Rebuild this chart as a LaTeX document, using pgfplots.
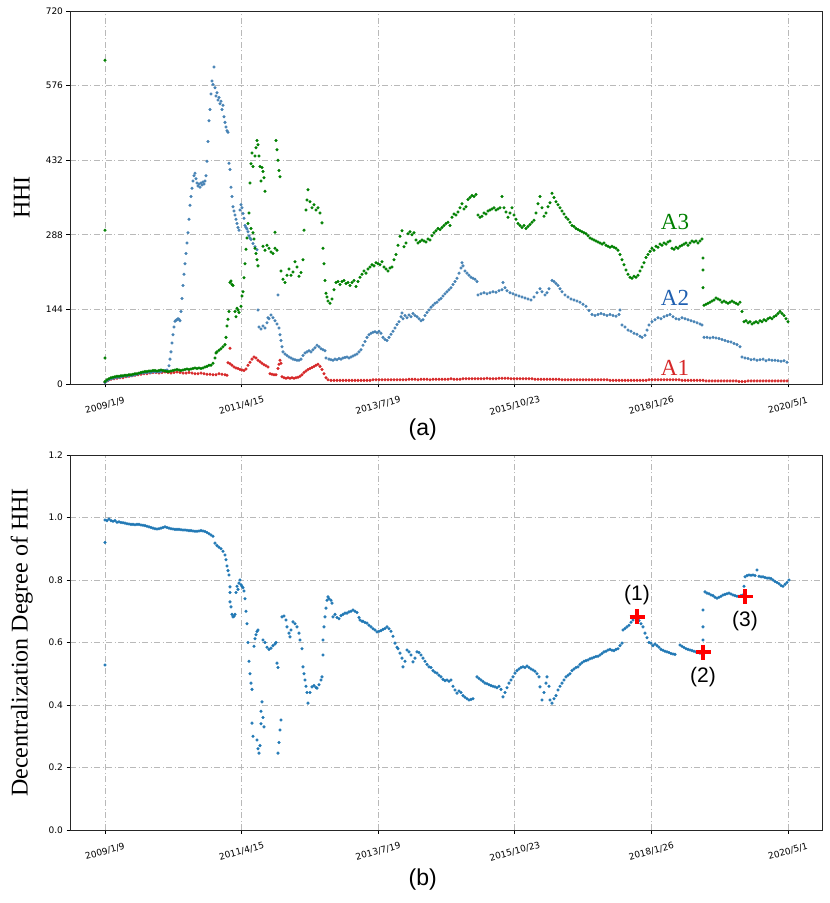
\documentclass[border=0pt]{standalone}
\usepackage{pgfplots}
\usepackage{pgfplotstable}
\pgfplotsset{compat=1.18}
\usepackage{fontspec}
\setmainfont{Liberation Serif}
\newfontfamily\dejavu{DejaVu Sans}
\newfontfamily\helv{Liberation Sans}
\definecolor{cA1}{HTML}{D62728}
\definecolor{cA2}{HTML}{4682B4}
\definecolor{cA3}{HTML}{008000}
\definecolor{cA2t}{HTML}{1F5FB0}
\definecolor{cB}{HTML}{1F77B4}

% x = position along the time axis (0 = 2009/1/9, 683 = 2020/5/1)
\pgfplotstableread{
u y
0 3
2 6
4 8
6 10
8 11
10 12
12 13
14 13
16 14
18 15
20 16
22 15
24 17
26 16
28 17
30 18
32 19
34 20
36 21
38 21
40 22
42 22
44 23
46 22
48 24
50 23
52 24
54 23
56 24
58 25
60 26
62 27
64 35
65 48
66 62
67 79
68 95
69 110
70 121
71 123
72 124
73 126
74 125
75 122
76 140
77 165
78 190
79 212
80 232
81 252
82 272
83 292
84 318
85 345
86 362
87 378
88 392
89 402
90 407
91 396
92 388
93 382
94 386
95 380
96 388
97 384
98 390
99 386
100 392
101 402
102 430
103 468
104 508
105 530
106 560
107 585
108 578
109 612
110 572
111 556
112 562
113 548
114 553
115 541
116 546
117 530
118 538
119 516
120 505
121 496
122 489
123 486
124 426
125 414
126 380
127 362
128 342
129 334
130 326
131 318
132 310
133 302
134 297
135 336
136 346
137 340
138 329
139 320
140 306
141 302
142 299
143 294
144 286
145 282
146 279
148 271
150 265
152 259
153 143
154 110
156 106
158 112
160 108
162 118
163 128
164 126
166 133
168 128
170 122
172 116
173 172
174 108
175 95
176 84
177 72
178 62
180 58
182 55
184 52
186 50
188 48
190 47
192 46
194 46
196 48
198 55
200 60
202 62
204 64
206 62
208 66
210 70
212 75
214 72
216 68
218 66
220 64
221 50
224 48
226 47
228 46
230 48
232 47
234 49
236 48
238 50
240 51
242 52
244 50
246 52
248 54
250 56
252 58
254 62
256 66
258 75
260 82
262 90
264 95
266 98
268 100
270 101
272 99
274 102
276 98
278 90
280 86
282 84
284 90
286 96
288 102
290 108
292 115
294 120
296 130
297 137
298 126
300 132
302 128
304 133
306 130
308 136
310 132
312 130
314 126
316 122
318 124
320 132
322 138
324 143
326 148
328 152
330 156
332 158
334 162
336 165
338 170
340 174
342 178
344 182
346 186
348 192
350 198
352 204
354 214
356 224
357 234
358 228
360 218
362 214
364 210
366 206
368 204
370 202
372 198
373 172
376 174
379 176
382 174
385 176
388 178
391 177
394 180
397 182
398 196
400 186
402 180
405 176
408 174
411 172
414 170
417 168
420 166
423 164
426 162
429 168
432 176
435 184
437 178
440 172
442 176
444 184
447 200
449 198
451 194
453 190
455 184
457 178
460 172
463 168
466 164
469 162
472 160
475 158
478 154
481 150
484 142
487 134
490 132
493 134
496 136
499 134
502 132
505 134
508 132
511 131
514 134
515 143
517 114
520 110
523 104
526 102
529 98
532 96
535 92
537 90
540 94
542 104
544 114
547 120
550 124
553 128
556 126
559 130
562 132
565 134
568 130
571 126
574 125
577 128
580 126
583 124
586 122
589 120
592 118
595 116
597 114
599 90
602 90
605 89
608 90
611 89
614 88
617 86
620 84
623 82
626 81
629 78
632 76
635 72
637 52
640 50
643 49
646 47
649 48
652 46
655 47
658 48
661 45
664 47
667 46
670 46
673 45
676 44
679 45
682 42
}\dataAtwo

\pgfplotstableread{
u y
0 625
0 297
0 50
0 5
2 8
4 10
6 12
8 13
10 14
12 15
14 15
16 16
18 16
20 17
22 17
24 18
26 18
28 19
30 20
32 20
34 21
36 22
38 23
40 24
42 24
44 25
46 25
48 26
50 26
52 25
54 26
56 27
58 26
60 25
62 24
64 24
66 25
68 26
70 27
72 28
74 27
76 26
78 27
80 28
82 29
84 28
86 29
88 30
90 31
92 30
94 31
96 30
98 31
100 33
102 34
104 36
106 36
108 40
110 50
111 60
112 62
114 65
116 68
118 72
120 76
121 90
122 112
123 125
124 140
125 196
126 199
127 192
128 190
130 140
131 130
132 146
133 143
134 138
136 150
137 170
138 178
139 205
140 232
141 260
142 282
143 310
144 330
145 388
146 425
147 446
148 420
146 300
148 292
149 280
150 262
151 252
152 240
153 228
150 440
151 456
152 470
153 462
154 440
155 420
156 392
157 418
158 410
159 398
160 372
158 266
160 258
162 268
164 262
166 255
168 252
170 262
172 258
170 293
171 470
172 452
173 432
174 412
175 400
176 218
178 202
180 196
182 210
184 222
186 210
188 216
190 236
192 226
194 208
196 215
198 240
199 297
201 336
202 355
203 375
205 352
207 340
209 346
211 336
213 340
215 330
217 311
218 262
219 232
220 200
221 175
222 168
223 160
225 156
227 164
229 182
231 196
233 198
235 192
237 198
239 200
241 194
243 196
245 190
247 196
249 200
251 188
253 198
255 206
257 212
259 218
261 214
263 222
265 226
267 230
269 228
271 234
273 232
275 230
277 236
279 226
281 222
283 218
285 224
287 226
289 240
291 250
293 268
295 285
297 296
299 265
301 272
303 290
305 294
307 288
309 292
311 278
313 272
315 275
317 278
319 276
321 274
323 280
325 278
327 286
329 292
331 296
333 300
335 298
337 302
339 306
341 310
343 312
345 306
347 322
349 328
351 326
353 332
355 340
357 348
359 338
361 342
363 356
365 360
367 364
369 362
371 366
373 326
375 322
377 324
379 330
381 328
383 334
385 336
387 338
389 340
391 336
393 338
395 340
397 362
399 340
401 332
403 322
405 330
407 340
409 326
411 318
413 310
415 306
417 302
419 306
421 300
423 304
425 308
427 312
429 316
431 330
433 348
435 362
437 340
439 324
441 330
443 342
445 350
447 368
449 360
451 352
453 346
455 340
457 334
459 328
461 322
463 318
465 312
467 306
469 304
471 300
473 298
475 296
477 294
479 292
481 290
483 286
485 282
487 280
489 278
491 276
493 274
495 272
497 270
499 272
501 268
503 266
505 264
507 266
509 264
511 262
513 258
515 250
517 240
519 230
521 220
523 212
525 206
527 204
529 208
531 206
533 210
535 218
537 226
539 234
541 244
543 250
545 256
547 262
549 258
551 266
553 264
555 270
557 268
559 272
561 270
563 274
565 276
567 262
569 260
571 264
573 262
575 266
577 268
579 270
581 272
583 268
585 272
587 276
589 274
591 276
593 272
595 276
597 280
598 243
598 220
598 186
599 152
601 154
603 156
605 158
607 160
609 162
611 166
613 164
615 162
617 158
619 160
621 158
623 156
625 158
627 160
629 158
631 156
633 154
635 158
637 140
639 120
641 122
643 118
645 120
647 116
649 118
651 120
653 118
655 122
657 120
659 124
661 122
663 126
665 128
667 126
669 130
671 132
673 136
675 140
677 136
679 132
681 126
683 120
}\dataAthree

\pgfplotstableread{
u y
0 3
3 7
6 9
9 10
12 11
15 12
18 12
21 14
24 15
27 16
30 17
33 18
36 19
39 20
42 20
45 21
48 22
51 22
54 21
57 22
60 23
63 22
66 21
69 22
72 23
75 22
78 21
81 21
84 22
87 21
90 20
93 20
96 21
99 20
102 19
105 19
108 18
111 18
114 20
117 19
120 18
122 17
123 41
125 69
125 39
127 36
129 33
131 31
133 30
135 28
137 27
139 26
141 29
143 36
145 42
147 48
149 52
151 50
153 46
155 43
157 40
159 37
161 35
163 33
165 20
167 19
169 18
171 18
173 30
174 38
175 46
176 40
177 14
179 12
181 11
183 12
185 11
187 12
189 11
191 12
193 13
195 15
197 18
199 22
201 25
203 28
205 30
207 32
209 34
211 36
213 38
215 34
217 28
219 20
221 12
223 8
226 7
229 7
232 7
235 7
238 7
241 7
244 7
247 7
250 7
253 7
256 7
259 7
262 7
265 7
268 8
271 8
274 8
277 8
280 8
283 8
286 8
289 8
292 8
295 8
298 8
301 8
304 9
307 9
310 9
313 8
316 9
319 9
322 9
325 8
328 9
331 9
334 9
337 9
340 9
343 9
346 10
349 9
352 9
355 9
358 10
361 10
364 10
367 10
370 10
373 10
376 10
379 10
382 11
385 10
388 10
391 10
394 11
397 11
400 11
403 11
406 10
409 10
412 10
415 10
418 10
421 10
424 10
427 10
430 9
433 9
436 9
439 9
442 9
445 9
448 9
451 9
454 9
457 8
460 8
463 8
466 8
469 8
472 8
475 8
478 8
481 8
484 8
487 8
490 8
493 8
496 8
499 8
502 8
505 7
508 7
511 7
514 7
517 7
520 7
523 7
526 7
529 7
532 7
535 7
538 7
541 7
544 8
547 8
550 8
553 8
556 8
559 8
562 8
565 8
568 8
571 8
574 8
577 7
580 7
583 7
586 7
589 7
592 7
595 7
598 7
601 6
604 6
607 6
610 6
613 6
616 6
619 6
622 6
625 6
628 6
631 6
634 5
637 5
640 5
643 6
646 6
649 6
652 6
655 6
658 6
661 6
664 6
667 6
670 6
673 6
676 6
679 6
682 6
}\dataAone

\pgfplotstableread{
u y
0 0.992
0 0.920
0 0.528
2 0.990
4 0.995
6 0.990
8 0.988
10 0.990
12 0.985
14 0.986
16 0.984
18 0.983
20 0.982
22 0.980
24 0.979
26 0.978
28 0.978
30 0.977
32 0.978
34 0.978
36 0.976
38 0.975
40 0.974
42 0.972
44 0.970
46 0.968
48 0.966
50 0.964
52 0.963
54 0.964
56 0.966
58 0.968
60 0.970
62 0.968
64 0.966
66 0.964
68 0.963
70 0.962
72 0.962
74 0.962
76 0.961
78 0.960
80 0.960
82 0.959
84 0.958
86 0.958
88 0.957
90 0.956
92 0.956
94 0.957
96 0.958
98 0.957
100 0.955
102 0.952
104 0.948
106 0.944
108 0.940
110 0.918
112 0.910
114 0.905
116 0.900
118 0.892
120 0.880
121 0.865
122 0.845
123 0.830
124 0.816
125 0.778
125 0.760
125 0.730
126 0.714
127 0.690
128 0.682
129 0.684
130 0.690
131 0.760
132 0.780
133 0.770
134 0.790
135 0.800
136 0.785
137 0.780
138 0.775
139 0.765
140 0.740
141 0.700
142 0.660
143 0.600
144 0.540
145 0.500
146 0.470
147 0.450
147 0.342
148 0.300
149 0.588
150 0.612
151 0.625
152 0.635
153 0.640
152 0.288
153 0.260
154 0.246
155 0.270
156 0.340
156 0.380
157 0.410
158 0.360
159 0.330
158 0.608
160 0.600
162 0.585
164 0.578
166 0.582
168 0.590
170 0.595
171 0.600
172 0.534
173 0.520
173 0.246
174 0.280
175 0.320
176 0.352
177 0.682
179 0.685
181 0.672
182 0.650
184 0.630
185 0.618
186 0.640
188 0.666
190 0.660
192 0.650
194 0.630
195 0.608
197 0.580
198 0.522
199 0.500
200 0.480
201 0.460
202 0.440
203 0.406
205 0.440
207 0.458
209 0.462
211 0.456
212 0.454
214 0.465
216 0.480
217 0.490
218 0.560
218 0.608
219 0.650
220 0.682
221 0.710
222 0.735
223 0.746
224 0.740
226 0.735
227 0.726
228 0.682
230 0.690
232 0.680
234 0.676
236 0.686
238 0.690
240 0.694
242 0.694
244 0.698
246 0.700
248 0.704
250 0.700
252 0.696
254 0.680
255 0.672
257 0.668
258 0.668
260 0.664
262 0.662
264 0.655
266 0.650
268 0.644
270 0.640
272 0.634
274 0.636
276 0.638
278 0.642
280 0.645
282 0.650
284 0.644
286 0.636
288 0.620
290 0.598
292 0.585
293 0.580
295 0.566
297 0.550
298 0.522
300 0.540
302 0.576
304 0.570
306 0.560
308 0.538
310 0.550
312 0.570
314 0.568
316 0.560
318 0.550
320 0.540
322 0.530
324 0.522
326 0.520
328 0.510
330 0.505
332 0.502
334 0.495
336 0.490
338 0.482
340 0.478
342 0.480
344 0.476
346 0.480
348 0.460
350 0.448
352 0.438
354 0.445
356 0.440
358 0.430
360 0.425
362 0.420
364 0.416
366 0.418
368 0.420
372 0.490
374 0.485
376 0.480
378 0.475
380 0.470
382 0.468
384 0.465
386 0.462
388 0.460
390 0.458
392 0.455
394 0.460
396 0.450
398 0.426
400 0.440
402 0.455
404 0.470
406 0.480
408 0.490
410 0.502
412 0.510
414 0.515
416 0.520
418 0.522
420 0.520
422 0.525
424 0.520
426 0.515
428 0.512
430 0.508
432 0.500
434 0.490
435 0.458
437 0.416
439 0.440
441 0.470
442 0.490
444 0.460
445 0.416
447 0.406
449 0.420
451 0.430
453 0.448
455 0.460
457 0.470
459 0.480
461 0.490
463 0.495
465 0.500
467 0.510
469 0.515
471 0.520
473 0.522
475 0.530
477 0.535
479 0.540
481 0.542
483 0.544
485 0.548
487 0.550
489 0.553
491 0.555
493 0.556
495 0.560
497 0.565
499 0.570
501 0.572
503 0.576
505 0.578
507 0.575
509 0.574
511 0.578
513 0.580
515 0.590
517 0.598
518 0.640
520 0.645
522 0.650
524 0.655
526 0.665
528 0.672
530 0.680
532 0.682
534 0.670
536 0.660
538 0.650
540 0.630
542 0.615
544 0.600
546 0.598
548 0.590
550 0.595
552 0.590
554 0.585
556 0.578
558 0.575
560 0.572
562 0.570
564 0.568
566 0.565
568 0.563
570 0.562
575 0.592
577 0.588
579 0.584
581 0.580
583 0.578
585 0.576
587 0.574
589 0.572
591 0.570
593 0.568
595 0.566
597 0.570
598 0.608
598 0.650
598 0.704
600 0.762
602 0.758
604 0.756
606 0.752
608 0.750
610 0.745
612 0.742
614 0.745
616 0.748
618 0.752
620 0.754
622 0.756
624 0.758
626 0.755
628 0.752
630 0.750
632 0.748
634 0.748
636 0.750
638 0.752
639 0.780
640 0.810
642 0.814
644 0.816
646 0.815
648 0.816
650 0.814
652 0.832
654 0.812
656 0.810
658 0.810
660 0.808
662 0.806
664 0.806
666 0.805
668 0.800
670 0.795
672 0.792
674 0.788
676 0.782
678 0.780
680 0.786
682 0.792
684 0.800
}\dataB

\pgfplotsset{
  myaxis/.style={
    scale only axis,
    width=752pt,
    xmin=-35, xmax=717,
    xtick={0,136.6,273.2,409.8,546.4,683},
    xticklabels={2009/1/9,2011/4/15,2013/7/19,2015/10/23,2018/1/26,2020/5/1},
    tick align=outside,
    xtick pos=bottom, ytick pos=left,
    major tick length=3.5pt,
    every tick/.style={black, line width=0.8pt},
    axis line style={black!85, line width=0.9pt},
    grid=major,
    major grid style={gray!55, line width=0.7pt, dash pattern=on 6pt off 2.5pt on 1pt off 2.5pt},
    /pgf/number format/assume math mode=true,
    ticklabel style={font=\dejavu\fontsize{9}{10}\selectfont},
    xticklabel style={yshift=-18pt, rotate=15, anchor=center},
    every axis y label/.style={at={(axis description cs:-0.064,0.5)}, rotate=90, anchor=center, font=\fontsize{24}{26}\selectfont},
    clip=false,
  }
}

\begin{document}
\begin{tikzpicture}
\useasboundingbox (0,0) rectangle (830pt,903pt);

\begin{axis}[myaxis,
  at={(70pt,519pt)}, anchor=south west,
  height=373pt,
  ymin=0, ymax=720,
  ytick={0,144,288,432,576,720},
  ylabel={HHI},
  xlabel={(a)},
  every axis x label/.style={at={(axis description cs:0.469,-0.123)}, anchor=center, font=\helv\fontsize{23}{25}\selectfont},
]
\addplot[only marks, mark=*, mark size=1.35pt, color=cA1, mark options={draw=none, fill=cA1}] table {\dataAone};
\addplot[only marks, mark=*, mark size=1.35pt, color=cA2, mark options={draw=none, fill=cA2}] table {\dataAtwo};
\addplot[only marks, mark=*, mark size=1.35pt, color=cA3, mark options={draw=none, fill=cA3}] table {\dataAthree};
\node[font=\fontsize{23}{25}\selectfont, text=cA3] at (axis cs:570,313) {A3};
\node[font=\fontsize{23}{25}\selectfont, text=cA2t] at (axis cs:570,166) {A2};
\node[font=\fontsize{23}{25}\selectfont, text=cA1] at (axis cs:570,31) {A1};
\end{axis}

\begin{axis}[myaxis,
  at={(70pt,73pt)}, anchor=south west,
  height=375pt,
  ymin=0, ymax=1.2,
  ytick={0,0.2,0.4,0.6,0.8,1.0,1.2},
  yticklabel style={/pgf/number format/.cd, fixed, fixed zerofill, precision=1},
  ylabel={Decentralization Degree of HHI},
  xlabel={(b)},
  every axis x label/.style={at={(axis description cs:0.469,-0.131)}, anchor=center, font=\helv\fontsize{23}{25}\selectfont},
]
\addplot[only marks, mark=*, mark size=1.35pt, color=cB, mark options={draw=none, fill=cB}] table {\dataB};
\addplot[only marks, mark=+, mark size=7.5pt, color=red, line width=3.4pt] coordinates {(532,0.682) (598,0.569) (640,0.747)};
\node[font=\helv\fontsize{21}{23}\selectfont] at (axis cs:532,0.752) {(1)};
\node[font=\helv\fontsize{21}{23}\selectfont] at (axis cs:598,0.489) {(2)};
\node[font=\helv\fontsize{21}{23}\selectfont] at (axis cs:640,0.667) {(3)};
\end{axis}
\end{tikzpicture}
\end{document}
